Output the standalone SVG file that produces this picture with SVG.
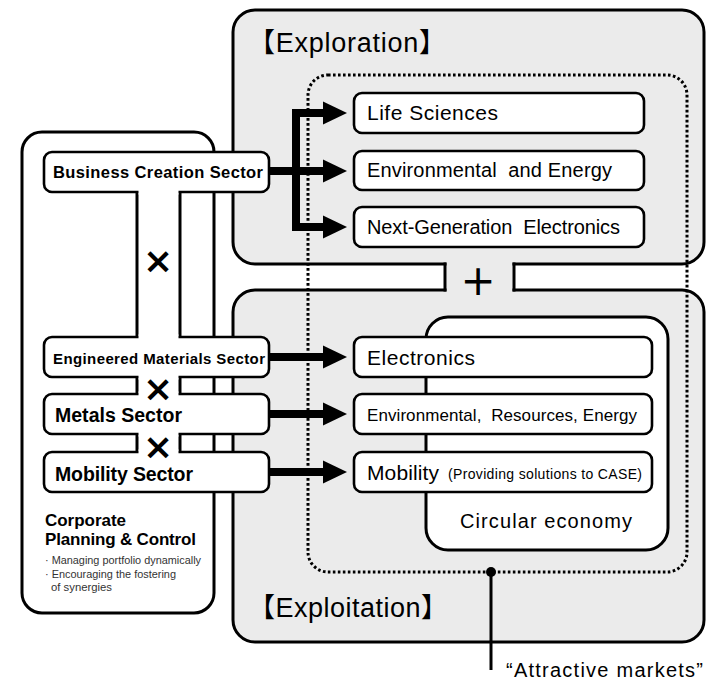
<svg xmlns="http://www.w3.org/2000/svg" width="706" height="681" viewBox="0 0 706 681">
<defs>
<style>
.panel{fill:#ebebeb;stroke:#000;stroke-width:3}
.wpanel{fill:#fff;stroke:#000;stroke-width:3}
.box{fill:#fff;stroke:#000;stroke-width:2.6}
.ln{stroke:#000;stroke-width:3;fill:none}
.shaft{stroke:#000;stroke-width:8;fill:none}
.head{fill:#000}
.dot{fill:none;stroke:#000;stroke-width:3;stroke-dasharray:2.6 2.4}
.gap{fill:#fff}
.t{font-family:"Liberation Sans",Arial,"Noto Sans CJK JP",sans-serif;fill:#000}
.b{font-weight:bold}
.title{font-family:"Liberation Sans",Arial,"Noto Sans CJK JP",sans-serif;font-size:27px;fill:#000}
.sym{font-family:"DejaVu Sans",sans-serif;fill:#000;text-anchor:middle}
.small{font-family:"Liberation Sans",Arial,sans-serif;font-size:10.5px;fill:#333}
</style>
</defs>

<g id="exploration">
<rect class="panel" x="233" y="10" width="471" height="254" rx="22"/>
<text class="title" x="248" y="52" textLength="198" lengthAdjust="spacing">【Exploration】</text>
</g>

<g id="exploitation">
<rect class="panel" x="233" y="290" width="471" height="352" rx="22"/>
<text class="title" x="248" y="617" textLength="200" lengthAdjust="spacing">【Exploitation】</text>
</g>

<g id="neck">
<rect x="446.5" y="262" width="66" height="30" fill="#ebebeb"/>
<line class="ln" x1="445" y1="262.5" x2="445" y2="291.5"/>
<line class="ln" x1="514" y1="262.5" x2="514" y2="291.5"/>
<text class="sym" x="478" y="295" font-size="42">+</text>
</g>

<g id="corporate">
<rect class="wpanel" x="22" y="132" width="192" height="481" rx="20"/>
<text class="t b" x="45" y="526" font-size="17" textLength="81" lengthAdjust="spacing">Corporate</text>
<text class="t b" x="45" y="545" font-size="17" textLength="151" lengthAdjust="spacing">Planning &amp; Control</text>
<text class="small" x="45" y="564" textLength="156" lengthAdjust="spacingAndGlyphs">· Managing portfolio dynamically</text>
<text class="small" x="45" y="578" textLength="131" lengthAdjust="spacingAndGlyphs">· Encouraging the fostering</text>
<text class="small" x="51" y="591" textLength="61" lengthAdjust="spacingAndGlyphs">of synergies</text>
</g>

<g id="stem">
<line class="ln" x1="137" y1="190" x2="137" y2="339"/>
<line class="ln" x1="180" y1="190" x2="180" y2="339"/>
<line class="ln" x1="137" y1="375" x2="137" y2="396"/>
<line class="ln" x1="180" y1="375" x2="180" y2="396"/>
<line class="ln" x1="137" y1="432" x2="137" y2="454"/>
<line class="ln" x1="180" y1="432" x2="180" y2="454"/>
</g>

<g id="circular">
<rect class="wpanel" x="426" y="317" width="242" height="233" rx="22"/>
<text class="t" x="460" y="528" font-size="20" textLength="172" lengthAdjust="spacing">Circular economy</text>
</g>

<g id="markets">
<rect class="dot" x="308" y="75" width="379" height="497" rx="20"/>
<circle cx="491" cy="572" r="5"/>
<line class="ln" x1="491" y1="572" x2="491" y2="670"/>
<text class="t" x="506" y="677" font-size="20" textLength="197" lengthAdjust="spacing">“Attractive markets”</text>
</g>

<g id="connectors">
<line class="shaft" x1="269" y1="171" x2="296" y2="171"/>
<line class="shaft" x1="296" y1="109" x2="296" y2="231"/>
<line class="shaft" x1="292" y1="113" x2="325" y2="113"/>
<line class="shaft" x1="296" y1="171" x2="325" y2="171"/>
<line class="shaft" x1="292" y1="227" x2="325" y2="227"/>
<polygon class="head" points="323,101.5 347,113 323,124.5"/>
<polygon class="head" points="323,159.5 347,171 323,182.5"/>
<polygon class="head" points="323,215.5 347,227 323,238.5"/>
<line class="shaft" x1="269" y1="357" x2="325" y2="357"/>
<line class="shaft" x1="269" y1="414" x2="325" y2="414"/>
<line class="shaft" x1="269" y1="472" x2="325" y2="472"/>
<polygon class="head" points="323,345.5 347,357 323,368.5"/>
<polygon class="head" points="323,402.5 347,414 323,425.5"/>
<polygon class="head" points="323,460.5 347,472 323,483.5"/>
</g>

<g id="business-creation">
<rect class="box" x="44" y="152" width="225" height="40" rx="8"/>
<text class="t b" x="53" y="178" font-size="16.5" textLength="210" lengthAdjust="spacing">Business Creation Sector</text>
</g>
<g id="engineered-materials">
<rect class="box" x="44" y="337" width="225" height="40" rx="8"/>
<text class="t b" x="53" y="364" font-size="15" textLength="212" lengthAdjust="spacing">Engineered Materials Sector</text>
</g>
<g id="metals">
<rect class="box" x="44" y="394" width="225" height="40" rx="8"/>
<text class="t b" x="55" y="422" font-size="19.5" textLength="127" lengthAdjust="spacing">Metals Sector</text>
</g>
<g id="mobility-sector">
<rect class="box" x="44" y="452" width="225" height="40" rx="8"/>
<text class="t b" x="55" y="481" font-size="19.5" textLength="138" lengthAdjust="spacing">Mobility Sector</text>
</g>

<g id="stem-joins">
<rect class="gap" x="138.5" y="189.5" width="40" height="5"/>
<rect class="gap" x="138.5" y="334.5" width="40" height="5"/>
<rect class="gap" x="138.5" y="374.5" width="40" height="5"/>
<rect class="gap" x="138.5" y="391.5" width="40" height="5"/>
<rect class="gap" x="138.5" y="431.5" width="40" height="5"/>
<rect class="gap" x="138.5" y="449.5" width="40" height="5"/>
<text class="sym b" x="158" y="273" font-size="36">×</text>
<text class="sym b" x="158" y="401" font-size="36">×</text>
<text class="sym b" x="158" y="459" font-size="36">×</text>
</g>

<g id="life-sciences">
<rect class="box" x="354" y="93" width="290" height="40" rx="8"/>
<text class="t" x="367" y="120" font-size="21" textLength="131" lengthAdjust="spacing">Life Sciences</text>
</g>
<g id="env-energy">
<rect class="box" x="354" y="151" width="290" height="39" rx="8"/>
<text class="t" x="367" y="177" font-size="20" textLength="245" lengthAdjust="spacing" xml:space="preserve">Environmental  and Energy</text>
</g>
<g id="next-gen">
<rect class="box" x="354" y="207" width="290" height="40" rx="8"/>
<text class="t" x="367" y="234" font-size="20" textLength="253" lengthAdjust="spacing" xml:space="preserve">Next-Generation  Electronics</text>
</g>

<g id="electronics">
<rect class="box" x="354" y="337" width="298" height="40" rx="8"/>
<text class="t" x="367" y="365" font-size="21" textLength="108" lengthAdjust="spacing">Electronics</text>
</g>
<g id="env-resources">
<rect class="box" x="354" y="394" width="298" height="40" rx="8"/>
<text class="t" x="367" y="421" font-size="17" textLength="270" lengthAdjust="spacing" xml:space="preserve">Environmental,  Resources, Energy</text>
</g>
<g id="mobility">
<rect class="box" x="354" y="452" width="298" height="40" rx="8"/>
<text class="t" x="367" y="480" font-size="21" textLength="72" lengthAdjust="spacing">Mobility</text>
<text class="t" x="448" y="479" font-size="14" textLength="194" lengthAdjust="spacing">(Providing solutions to CASE)</text>
</g>
</svg>
